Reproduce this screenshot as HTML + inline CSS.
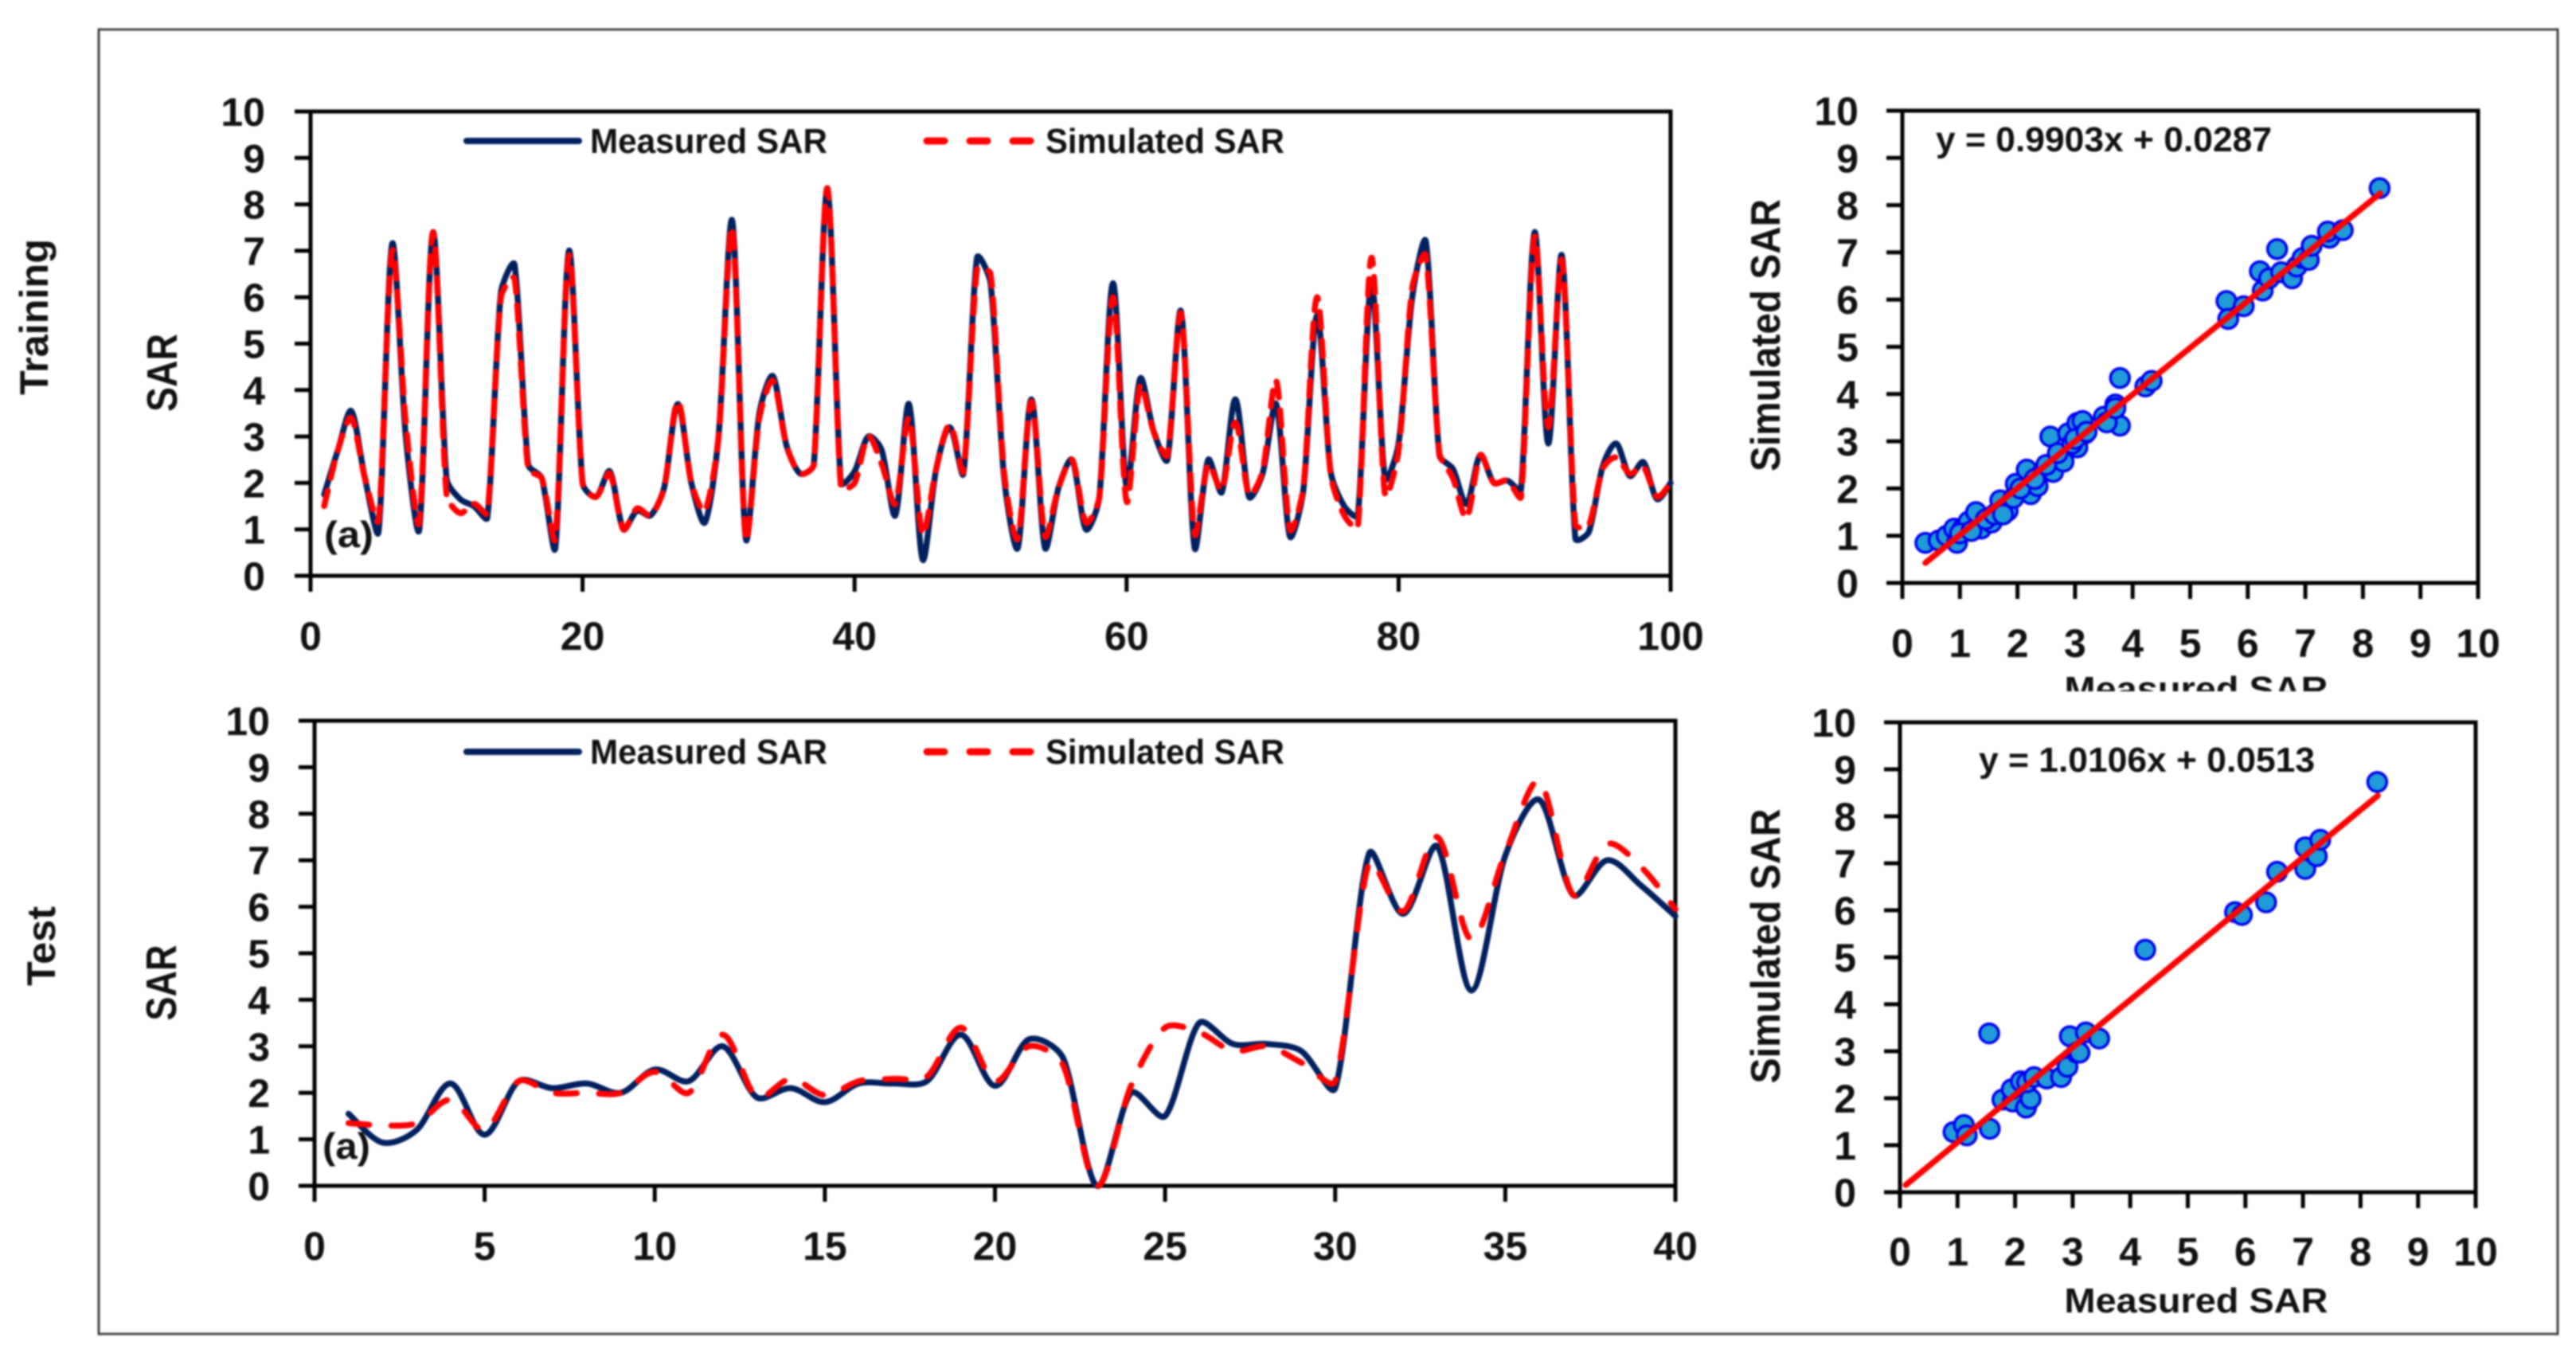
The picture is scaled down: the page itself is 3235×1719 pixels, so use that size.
<!DOCTYPE html>
<html lang="en">
<head>
<meta charset="utf-8">
<title>Measured vs Simulated SAR</title>
<style>
html,body{margin:0;padding:0;background:#fff;width:3235px;height:1719px;overflow:hidden}
svg{display:block;filter:blur(1px)}
text{font-family:"Liberation Sans",sans-serif;font-weight:bold;fill:#111}
</style>
</head>
<body>
<svg id="figure" xmlns="http://www.w3.org/2000/svg" width="3235" height="1719" viewBox="0 0 3235 1719">
<rect x="0" y="0" width="3235" height="1719" fill="#fff"/>
<rect x="124" y="37" width="3088" height="1638" fill="none" stroke="#444" stroke-width="3"/>
<text transform="translate(60,398) rotate(-90)" text-anchor="middle" font-size="50" textLength="196" lengthAdjust="spacingAndGlyphs">Training</text>
<text transform="translate(69,1188) rotate(-90)" text-anchor="middle" font-size="50" textLength="100" lengthAdjust="spacingAndGlyphs">Test</text>
<g id="layer"></g>
</svg>
<script>
const trainIndex = [];
for (let n = 1; n <= 100; n++) trainIndex.push(n);
const trainMeasured = [1.75,2.7,3.55,2.1,0.95,7.15,3.0,1.0,7.4,2.1,1.65,1.5,1.25,6.1,6.7,2.4,2.1,0.6,7.0,2.0,
1.7,2.25,1.0,1.4,1.3,1.9,3.7,2.0,1.15,3.0,7.65,0.8,3.5,4.3,2.8,2.2,2.4,8.3,2.0,2.25,
3.0,2.7,1.3,3.7,0.35,2.3,3.2,2.2,6.85,6.3,2.1,0.6,3.8,0.6,1.9,2.5,1.0,1.7,6.3,1.9,
4.25,3.1,2.5,5.7,0.6,2.5,1.8,3.8,1.7,2.2,3.7,0.85,1.85,5.6,2.25,1.5,1.3,6.3,2.1,2.85,
6.0,7.2,2.6,2.3,1.55,2.6,2.0,2.05,1.85,7.4,2.85,6.9,0.8,0.95,2.35,2.85,2.15,2.45,1.65,2.0];
const trainSimulated = [1.5,2.7,3.4,2.1,1.2,7.0,3.3,1.15,7.4,1.75,1.35,1.55,1.35,6.0,6.4,2.3,2.1,0.8,6.9,2.0,
1.7,2.2,1.0,1.45,1.3,1.9,3.75,2.0,1.4,3.0,7.5,0.8,3.4,4.2,2.8,2.2,2.4,8.35,1.9,2.0,
3.0,2.4,1.55,3.4,0.9,2.3,3.25,2.25,6.6,6.5,2.2,0.8,3.75,0.85,1.9,2.5,1.15,1.7,6.0,1.6,
4.1,3.1,2.6,5.65,0.9,2.4,1.85,3.3,1.75,2.25,4.2,1.0,1.9,6.0,2.2,1.3,1.05,6.85,1.75,2.7,
6.2,6.9,2.65,2.1,1.25,2.6,2.0,2.05,1.7,7.3,3.2,6.8,1.1,1.1,2.3,2.55,2.2,2.35,1.7,2.0];
const testIndex = [];
for (let n = 1; n <= 40; n++) testIndex.push(n);
const testMeasured = [1.55,0.93,1.2,2.2,1.1,2.25,2.1,2.2,2.0,2.5,2.25,3.0,1.9,2.1,1.8,2.2,2.2,2.25,3.25,2.15,
3.15,2.75,0,2.0,1.5,3.5,3.05,3.05,2.9,2.1,7.15,5.85,7.3,4.2,7.1,8.3,6.25,7.0,6.45,5.8];
const testSimulated = [1.35,1.3,1.35,1.85,1.2,2.25,2.0,2.0,2.0,2.45,2.0,3.25,1.9,2.3,1.95,2.25,2.3,2.35,3.4,2.25,
3.0,2.6,0,2.15,3.4,3.3,2.9,3.0,2.65,2.25,6.95,5.9,7.5,5.3,7.15,8.7,6.25,7.35,6.85,5.95];

const trainScatterX = [0.4,0.63,0.77,0.9,0.95,1.05,1.15,1.28,1.37,1.55,1.7,1.83,1.93,1.97,2.23,2.35,2.16,2.44,2.62,2.57,2.8,2.88,3.04,3.04,3.18,3.13,3.5,3.7,3.78,3.78,4.22,4.33,5.63,5.66,5.93,6.21,6.26,6.37,6.51,6.58,6.77,6.85,6.95,7.06,7.11,7.42,7.39,7.65,8.29,1.0,1.2,1.45,1.6,1.75,2.05,2.3,2.5,2.7,2.95,3.0,3.2,3.55,3.7];
const trainScatterY = [0.85,0.9,1.0,1.15,0.85,1.15,1.3,1.5,1.15,1.28,1.75,1.53,1.8,2.1,1.88,2.05,2.4,2.35,2.35,3.1,2.57,3.17,2.87,3.39,3.17,3.43,3.52,3.78,4.34,3.33,4.16,4.28,5.97,5.59,5.86,6.6,6.19,6.45,7.07,6.58,6.45,6.7,6.88,6.84,7.14,7.31,7.44,7.47,8.36,1.05,1.1,1.35,1.45,1.45,2.0,2.2,2.5,2.75,2.95,3.05,3.2,3.4,3.7];
const testScatterX = [0.93,1.11,1.16,1.55,1.56,1.78,1.96,1.94,2.19,2.27,2.1,2.21,2.33,2.55,2.8,2.91,2.95,3.07,3.12,3.23,3.46,4.26,5.82,5.94,6.36,6.55,7.04,7.04,7.24,7.3,8.29];
const testScatterY = [1.28,1.43,1.21,3.38,1.35,1.97,1.93,2.19,1.8,1.99,2.36,2.34,2.45,2.42,2.45,2.67,3.32,2.97,2.97,3.4,3.27,5.16,5.96,5.9,6.17,6.82,6.88,7.34,7.15,7.5,8.73];

const trainFitRange = [0.4, 8.3];
const trainFitCoef = [0.9903, 0.0287];
const testFitRange = [0.1, 8.3];
const testFitCoef = [1.0106, 0.0513];

const yTickLabels = [0,1,2,3,4,5,6,7,8,9,10];
const xTickLabelsTrain = [0,20,40,60,80,100];
const xTickLabelsTest = [0,5,10,15,20,25,30,35,40];
const xTickLabelsScatter = [0,1,2,3,4,5,6,7,8,9,10];

const NS = 'http://www.w3.org/2000/svg';
const layer = document.getElementById('layer');
function mk(tag, attrs, parent) {
  const el = document.createElementNS(NS, tag);
  for (const k in attrs) el.setAttribute(k, attrs[k]);
  (parent || layer).appendChild(el);
  return el;
}
function scale(d0, d1, r0, r1) {
  return function (v) { return r0 + (v - d0) / (d1 - d0) * (r1 - r0); };
}
function dist(a, b) { return Math.hypot(a[0] - b[0], a[1] - b[1]); }
function damp(seg, other) {
  const total = seg + other;
  if (total === 0) return 0;
  return Math.min(1, 2 * seg / total);
}
function smoothPath(xs, ys, fx, fy) {
  const P = xs.map(function (v, i) { return [fx(v), fy(ys[i])]; });
  let d = 'M' + P[0][0].toFixed(1) + ' ' + P[0][1].toFixed(1);
  for (let i = 0; i < P.length - 1; i++) {
    const p0 = P[Math.max(i - 1, 0)], p1 = P[i], p2 = P[i + 1], p3 = P[Math.min(i + 2, P.length - 1)];
    const seg = dist(p1, p2);
    const f1 = damp(seg, dist(p0, p1)), f2 = damp(seg, dist(p2, p3));
    const c1x = p1[0] + (p2[0] - p0[0]) / 6 * f1, c1y = p1[1] + (p2[1] - p0[1]) / 6 * f1;
    const c2x = p2[0] - (p3[0] - p1[0]) / 6 * f2, c2y = p2[1] - (p3[1] - p1[1]) / 6 * f2;
    d += 'C' + c1x.toFixed(1) + ' ' + c1y.toFixed(1) + ' ' + c2x.toFixed(1) + ' ' + c2y.toFixed(1) + ' ' + p2[0].toFixed(1) + ' ' + p2[1].toFixed(1);
  }
  return d;
}
function drawAxes(box, fx, fy, xTicks, yTicks, yLabelX, xLabelY, prefix) {
  const g = mk('g', {});
  
  
  const frame = mk('rect', { x: box.l, y: box.t, width: box.r - box.l, height: box.b - box.t, fill: 'none', stroke: '#000', 'stroke-width': 5 }, g);
  
  
  yTicks.forEach(function (v) {
    const t = mk('line', { x1: box.l - 20, x2: box.l, y1: fy(v), y2: fy(v), stroke: '#000', 'stroke-width': 5 }, g);
    
    
    const lb = mk('text', { x: yLabelX, y: fy(v) + 18, 'text-anchor': 'end', 'font-size': 50 }, g);
    lb.textContent = v;
    
    
  });
  xTicks.forEach(function (v) {
    const t = mk('line', { x1: fx(v), x2: fx(v), y1: box.b, y2: box.b + 20, stroke: '#000', 'stroke-width': 5 }, g);
    
    
    const lb = mk('text', { x: fx(v), y: xLabelY + 18, 'text-anchor': 'middle', 'font-size': 50 }, g);
    lb.textContent = v;
    
    
  });
}
function label(txt, x, y, size, len, name, rotate) {
  const attrs = { 'font-size': size, 'text-anchor': 'middle', textLength: len, lengthAdjust: 'spacingAndGlyphs' };
  if (rotate) attrs.transform = 'translate(' + x + ',' + y + ') rotate(-90)';
  else { attrs.x = x; attrs.y = y; }
  const el = mk('text', attrs);
  el.textContent = txt;
  
  
  return el;
}
function legend(y, prefix) {
  const a = mk('line', { x1: 586, x2: 727, y1: y, y2: y, stroke: '#002060', 'stroke-width': 8, 'stroke-linecap': 'round' });
  
  
  label('Measured SAR', 890, y + 15, 44, 298, prefix + '-legend-measured-label');
  const b = mk('line', { x1: 1164, x2: 1296, y1: y, y2: y, stroke: '#ff0000', 'stroke-width': 9, 'stroke-linecap': 'round', 'stroke-dasharray': '22 32' });
  
  
  label('Simulated SAR', 1463, y + 15, 44, 300, prefix + '-legend-simulated-label');
}
function drawSeries(xs, measured, simulated, box, xMax, xTicks, yLabelX, xLabelY, prefix, dash) {
  const fx = scale(0, xMax, box.l, box.r), fy = scale(0, 10, box.b, box.t);
  drawAxes(box, fx, fy, xTicks, yTickLabels, yLabelX, xLabelY, prefix);
  const m = mk('path', { d: smoothPath(xs, measured, fx, fy), fill: 'none', stroke: '#002060', 'stroke-width': 7.5, 'stroke-linejoin': 'round', 'stroke-linecap': 'round' });
  
  
  const s = mk('path', { d: smoothPath(xs, simulated, fx, fy), fill: 'none', stroke: '#ff0000', 'stroke-width': 7.5, 'stroke-linejoin': 'round', 'stroke-linecap': 'round', 'stroke-dasharray': dash });
  
  
}
function drawScatter(xs, ys, range, coef, box, yLabelX, xLabelY, prefix) {
  const fx = scale(0, 10, box.l, box.r), fy = scale(0, 10, box.b, box.t);
  drawAxes(box, fx, fy, xTickLabelsScatter, yTickLabels, yLabelX, xLabelY, prefix);
  xs.forEach(function (v, i) {
    const c = mk('circle', { cx: fx(v), cy: fy(ys[i]), r: 12, fill: '#1f9bd7', stroke: '#0000ee', 'stroke-width': 3.5 });
    
    
  });
  const fit = mk('line', { x1: fx(range[0]), y1: fy(coef[0] * range[0] + coef[1]), x2: fx(range[1]), y2: fy(coef[0] * range[1] + coef[1]), stroke: '#ff0000', 'stroke-width': 7.5, 'stroke-linecap': 'round' });
  
  
}

drawSeries(trainIndex, trainMeasured, trainSimulated, { l: 390, r: 2098, t: 140, b: 723 }, 100, xTickLabelsTrain, 333, 798, 'training-series', '20 16');
legend(177, 'training');
label('(a)', 438, 687, 46, 62, 'training-panel-tag');
label('SAR', 222, 468, 54, 98, 'training-y-axis-title', true);

drawSeries(testIndex, testMeasured, testSimulated, { l: 395, r: 2104, t: 905, b: 1489 }, 40, xTickLabelsTest, 339, 1564, 'test-series', '26 28');
legend(944, 'test');
label('(a)', 435, 1455, 46, 60, 'test-panel-tag');
label('SAR', 221, 1234, 54, 95, 'test-y-axis-title', true);

drawScatter(trainScatterX, trainScatterY, trainFitRange, trainFitCoef, { l: 2389, r: 3112, t: 139, b: 732 }, 2334, 807, 'training-scatter');
label('y = 0.9903x + 0.0287', 2642, 190, 44, 422, 'training-equation');
label('Simulated  SAR', 2235, 421, 52, 342, 'training-scatter-y-title', true);
label('Measured SAR', 2758, 880, 44, 331, 'training-scatter-x-title');
const cover = mk('rect', { x: 2570, y: 868, width: 380, height: 18, fill: '#fff' });



drawScatter(testScatterX, testScatterY, testFitRange, testFitCoef, { l: 2386, r: 3109, t: 907, b: 1497 }, 2331, 1571, 'test-scatter');
label('y = 1.0106x + 0.0513', 2696, 969, 44, 422, 'test-equation');
label('Simulated  SAR', 2235, 1188, 52, 345, 'test-scatter-y-title', true);
label('Measured SAR', 2758, 1648, 44, 331, 'test-scatter-x-title');
</script>
</body>
</html>
